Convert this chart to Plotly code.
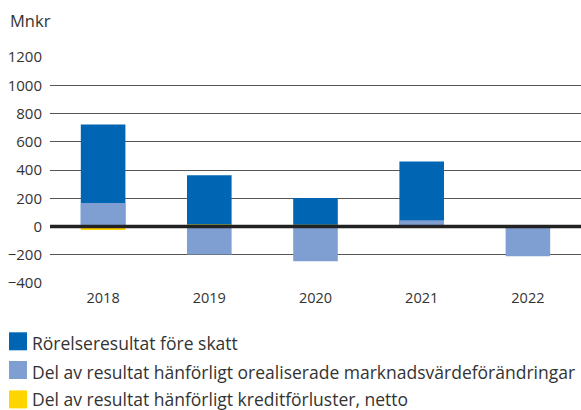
import plotly.graph_objects as go

years = ["2018", "2019", "2020", "2021", "2022"]
rorelseresultat = [722, 362, 202, 461, 0]
orealiserade = [166, -198, -246, 44, -211]
kreditforluster = [-25, 15, 12, 0, 0]

series_names = [
    "Rörelseresultat före skatt",
    "Del av resultat hänförligt orealiserade marknadsvärdeförändringar",
    "Del av resultat hänförligt kreditförluster, netto",
]
colors = ["#0066B3", "#7F9ED2", "#FFD500"]
y_tickvals = [-400, -200, 0, 200, 400, 600, 800, 1000, 1200]

FONT = "Open Sans"
TXT = "#333333"

W, H = 581, 410
ML, MR, MT, MB = 50, 0, 57, 127
PW = W - ML - MR
PH = H - MT - MB


def px_x(px):
    return (px - ML) / PW


def px_y(py):
    return (H - MB - py) / PH


fig = go.Figure()
for name, vals, col in zip(series_names, [rorelseresultat, orealiserade, kreditforluster], colors):
    fig.add_trace(go.Bar(x=years, y=vals, name=name, marker=dict(color=col, line=dict(width=0)),
                         width=0.42, showlegend=False))

shapes = [dict(type="line", xref="paper", yref="y", x0=0, x1=1, y0=0, y1=0,
               line=dict(color="#222222", width=3.5), layer="above")]
annotations = [dict(text="Mnkr", xref="paper", yref="paper", x=px_x(8), y=px_y(21),
                    xanchor="left", yanchor="middle", showarrow=False,
                    font=dict(family=FONT, size=16.5, color=TXT))]

legend_rows = [341.3, 370, 399.4]
text_rows = [343.3, 372, 398.6]
for name, col, cy, ty in zip(series_names, colors, legend_rows, text_rows):
    shapes.append(dict(type="rect", xref="paper", yref="paper",
                       x0=px_x(9), x1=px_x(27), y0=px_y(cy - 9), y1=px_y(cy + 9),
                       fillcolor=col, line=dict(width=0)))
    annotations.append(dict(text=name, xref="paper", yref="paper", x=px_x(30), y=px_y(ty),
                            xanchor="left", yanchor="middle", showarrow=False,
                            font=dict(family=FONT, size=17.5, color=TXT)))

fig.update_layout(
    width=W, height=H,
    margin=dict(l=ML, r=MR, t=MT, b=MB),
    barmode="overlay",
    plot_bgcolor="white", paper_bgcolor="white",
    font=dict(family=FONT, size=14, color=TXT),
    xaxis=dict(showgrid=False, showline=False, ticks="", tickfont=dict(size=14.5, color=TXT),
               ticklabelstandoff=4),
    yaxis=dict(range=[-400, 1200], tickvals=y_tickvals, showgrid=True, gridcolor="#555555",
               gridwidth=1, zeroline=False, showline=False, ticks="",
               tickfont=dict(size=15, color=TXT), ticklabelstandoff=7),
    shapes=shapes,
    annotations=annotations,
)

fig.write_html("out.html", config={"displayModeBar": False},
               post_script="document.body.style.margin='0';")
